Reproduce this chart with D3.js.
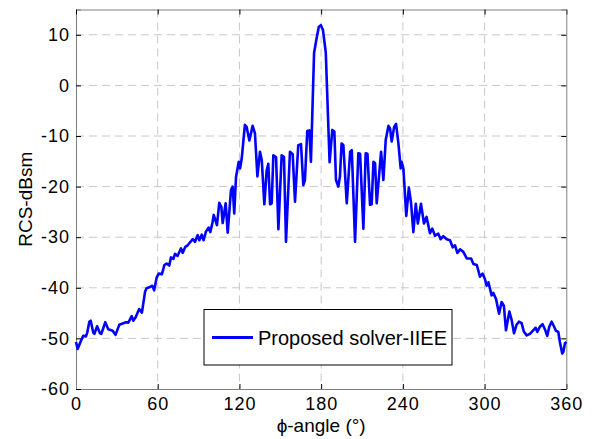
<!DOCTYPE html>
<html lang="en">
<head>
<meta charset="utf-8">
<title>RCS vs phi-angle</title>
<script src="https://cdn.jsdelivr.net/npm/d3@7"></script>
<style>
  body { margin: 0; background: #fff; }
  text { font-family: "Liberation Sans", Arial, sans-serif; fill: #000; }
</style>
</head>
<body>
<svg id="chart" width="595" height="439"></svg>
<script>
// angle (deg) and RCS (dBsm)
let angle = [0, 1.2, 3.6, 5.3, 7.3, 8.3, 9.8, 10.8, 12.7, 13.5, 15.5, 17.6, 18.6, 21.5, 23.7, 26.9, 29, 31.8, 33.8, 36.7,
  38.4, 40.9, 42, 43.8, 46.4, 48.4, 50.7, 51.8, 53.8, 56, 57.4, 59.2, 60.7, 63.1, 64.9, 66.6, 68.5, 69.7, 71.5, 72.7,
  74.6, 77.1, 78.3, 80.3, 82, 84.4, 85.7, 87.4, 89.3, 90.6, 92.3, 93.7, 95.4, 97.4, 98.6, 100.3, 101.1, 102.3, 103.5, 105.2,
  106.7, 107.7, 109.9, 111.4, 113.8, 115, 116.2, 117.5, 119.5, 120.5, 121.7, 124, 125.3, 127.3, 129.7, 131.4, 133.2, 135.1, 136.4, 138.3,
  140, 141.2, 142.5, 143.7, 144.9, 146.9, 148.6, 151, 152.7, 154.2, 157.1, 159.1, 160.8, 163.2, 165.2, 166.9, 168.1, 169.8, 171.3, 172.5,
  174.8, 176.8, 178.3, 179.8, 181.3, 183.4, 186.2, 188.2, 189.7, 190.9, 192.6, 193.8, 195, 196.3, 198.8, 201.3, 202.5, 204.9, 207.3, 208.6,
  211, 212.7, 214, 215.9, 217.1, 218.4, 219.6, 220.8, 224, 225.7, 227.4, 229.4, 230.6, 231.8, 233.6, 235, 236.7, 238.4, 239.1, 240.4,
  242.5, 244.4, 246, 247.7, 249.5, 251, 253.3, 255.5, 257.4, 259.9, 261.6, 263.6, 266, 267.7, 269.7, 272.2, 274.6, 276.6, 278.3, 280,
  282, 284.4, 286.9, 290.1, 291.8, 294.3, 296.6, 298.6, 300.3, 301.5, 302.8, 305.2, 306.4, 308.4, 310.6, 312.5, 314.2, 315.7, 318.2, 319.9,
  321.6, 323.5, 325.2, 327.2, 328.9, 330.9, 333.3, 335.7, 337.5, 338.7, 340.6, 342.6, 344.6, 346, 347.5, 349.2, 350.9, 352.4, 354.1, 355.3,
  357, 357.8, 359, 360];
let rcs = [-50.7, -52.1, -50.5, -49.5, -49.6, -48.8, -46.7, -46.5, -48.9, -49.1, -47.6, -49, -49.1, -46.8, -48.2, -48.5, -49.3, -47.3, -47.1, -46.8,
  -46.9, -45.6, -46.5, -45.8, -44.2, -44.9, -40.8, -40.1, -39.9, -39.6, -40.5, -38, -37.2, -37.3, -35.5, -35.2, -35.6, -34, -34.3, -33.3,
  -33.7, -32.2, -33.1, -31.9, -31.6, -30.8, -30.4, -30.9, -29.6, -30.6, -29.5, -30.6, -28.9, -28.1, -29, -27, -25.6, -26.6, -27.6, -23.2,
  -24, -27.2, -23.3, -29.1, -20.7, -20, -25.3, -18.1, -15.1, -16.4, -14.4, -7.8, -8.2, -10.9, -8, -9.5, -18, -13.1, -14.8, -23.5,
  -16.8, -15.5, -23.5, -23.3, -13.8, -14.2, -28.4, -13.8, -14.1, -30.9, -13.1, -13.6, -23, -11.8, -11.6, -19.7, -18.7, -9, -8.9, -15.1,
  6.4, 9.5, 11.6, 11.9, 11, 6.5, -15.2, -8.8, -9.1, -18.7, -20, -18, -11.5, -11.8, -23.3, -13.1, -12.8, -30.9, -13.4, -13.5,
  -28.3, -13.4, -13.5, -23.6, -23.5, -15.1, -15.4, -23.3, -13.1, -18.7, -10.8, -8, -8.5, -11.1, -8.2, -7.6, -11.4, -16.4, -15.1, -16.5,
  -25.8, -20.2, -23.2, -29, -23.4, -27.3, -23.4, -27.3, -26, -29.2, -28.3, -29.7, -29.3, -30.4, -29.8, -30.4, -30.6, -32, -31.6, -33.1,
  -32.4, -32.9, -34.2, -34.2, -35.3, -35.5, -37.8, -37.2, -38.3, -39.6, -38.9, -41.5, -41, -42.2, -45.1, -42.8, -43.6, -48.4, -44.7, -46.4,
  -49, -47.3, -46.7, -47, -48.7, -49.4, -49.1, -48.4, -47.9, -48.7, -47.7, -47.2, -48.4, -49.5, -47.7, -46.7, -47.6, -48.5, -48.7, -50.7,
  -53, -52.7, -51, -50.7];

let xTicks = [0, 60, 120, 180, 240, 300, 360];
let yTicks = [-60, -50, -40, -30, -20, -10, 0, 10];
let legendLabel = "Proposed solver-IIEE";

let svg = d3.select("#chart");
let mLeft = 76, mRight = 566.3, mTop = 9.5, mBottom = 389;

let x = d3.scaleLinear().domain([0, 360]).range([mLeft, mRight]);
let y = d3.scaleLinear().domain([-60, 15]).range([mBottom, mTop]);

// grid
svg.append("g")
  .selectAll("line")
  .data(xTicks.slice(1, -1)).enter()
  .append("line")
  .attr("x1", d => x(d)).attr("x2", d => x(d))
  .attr("y1", mTop).attr("y2", mBottom)
  .attr("stroke", "#c8c8c8")
  .attr("stroke-dasharray", "8,5");
svg.append("g")
  .selectAll("line")
  .data(yTicks.slice(1)).enter()
  .append("line")
  .attr("x1", mLeft).attr("x2", mRight)
  .attr("y1", d => y(d)).attr("y2", d => y(d))
  .attr("stroke", "#c8c8c8")
  .attr("stroke-dasharray", "8,5");

// axes, ticks pointing inward on all four sides
let fmt = d => d < 0 ? "-" + Math.abs(d) : d;
let xb = svg.append("g").attr("transform", `translate(0,${mBottom})`)
  .call(d3.axisBottom(x).tickValues(xTicks).tickSize(-5).tickPadding(8).tickFormat(fmt));
let yl = svg.append("g").attr("transform", `translate(${mLeft},0)`)
  .call(d3.axisLeft(y).tickValues(yTicks).tickSize(-5).tickPadding(6).tickFormat(fmt));
let xt = svg.append("g").attr("transform", `translate(0,${mTop})`)
  .call(d3.axisTop(x).tickValues(xTicks).tickSize(-5).tickFormat(""));
let yr = svg.append("g").attr("transform", `translate(${mRight},0)`)
  .call(d3.axisRight(y).tickValues(yTicks).tickSize(-5).tickFormat(""));

[xb, yl, xt, yr].forEach(g => {
  g.select(".domain").attr("stroke", "#808080");
  g.selectAll(".tick line").attr("stroke", "#000");
  g.selectAll(".tick text")
    .style("font-family", "'Liberation Sans', Arial, sans-serif")
    .style("font-size", "18px")
    .style("letter-spacing", "1px")
    .attr("fill", "#000");
});

// curve
let pts = angle.map((a, i) => [a, rcs[i]]);
let line = d3.line().x(d => x(d[0])).y(d => y(d[1]));
svg.append("path")
  .datum(pts)
  .attr("d", line)
  .attr("fill", "none")
  .attr("stroke", "#0000ff")
  .attr("stroke-width", 2.6)
  .attr("stroke-linejoin", "round");

// axis labels
svg.append("text")
  .attr("x", (mLeft + mRight) / 2).attr("y", 432)
  .attr("text-anchor", "middle")
  .style("font-size", "19px")
  .text("ϕ-angle (°)");
svg.append("text")
  .attr("transform", `translate(31.5,${(mTop + mBottom) / 2}) rotate(-90)`)
  .attr("text-anchor", "middle")
  .style("font-size", "19px")
  .text("RCS-dBsm");

// legend
let lg = svg.append("g");
lg.append("rect")
  .attr("x", 204).attr("y", 309.5).attr("width", 248).attr("height", 55.5)
  .attr("fill", "#fff").attr("stroke", "#000");
lg.append("line")
  .attr("x1", 212).attr("x2", 253).attr("y1", 337.5).attr("y2", 337.5)
  .attr("stroke", "#0000ff").attr("stroke-width", 3);
lg.append("text")
  .attr("x", 258).attr("y", 345)
  .style("font-size", "20px")
  .text(legendLabel);
</script>
</body>
</html>
